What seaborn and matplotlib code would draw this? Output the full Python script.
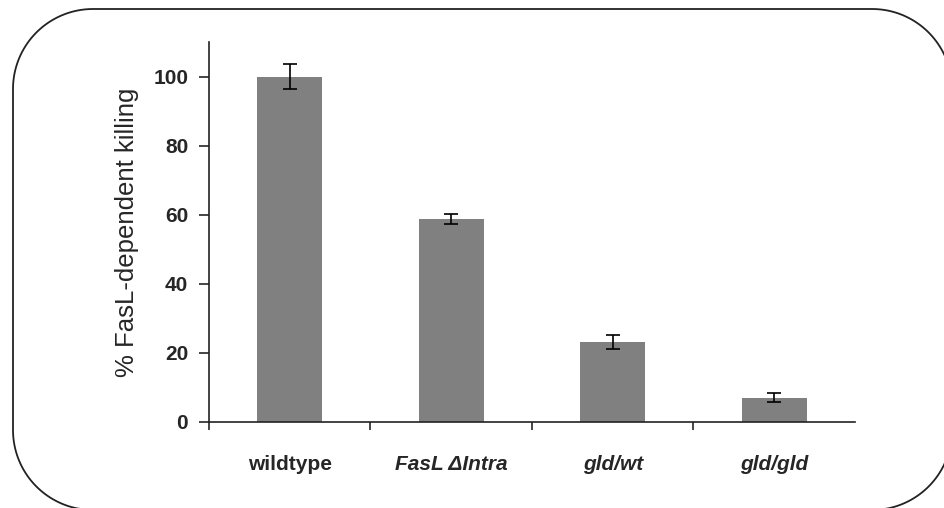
import numpy as np
import pandas as pd
import matplotlib
matplotlib.use("Agg")
import matplotlib.pyplot as plt
from matplotlib.patches import Polygon
import seaborn as sns

# data
categories = ["wildtype", "FasL \u0394Intra", "gld/wt", "gld/gld"]
italic = [False, True, True, True]
killing = [100.0, 58.7, 23.2, 7.0]
errors = [3.7, 1.5, 2.0, 1.3]
y_ticks = [0, 20, 40, 60, 80, 100]

sns.set_style("white")
plt.rcParams["font.family"] = ["Liberation Sans", "DejaVu Sans"]

df = pd.DataFrame({"group": categories, "killing": killing})

fig = plt.figure(figsize=(9.44, 5.08), dpi=100)
ax = fig.add_axes([0.2214, 0.1693, 0.6843, 0.748])

sns.barplot(data=df, x="group", y="killing", color="#808080", saturation=1,
            width=0.4, errorbar=None, ax=ax, edgecolor="none")
pos = np.arange(len(categories))
ax.errorbar(pos, killing, yerr=errors, fmt="none", ecolor="black",
            elinewidth=1.2, capsize=5, capthick=1.2)

ax.set_ylim(0, 110)
ax.set_xlim(-0.5, len(categories) - 0.5)
ax.set_yticks(y_ticks)
ax.set_yticklabels([str(t) for t in y_ticks], fontsize=15, fontweight="bold")
ax.tick_params(axis="y", direction="out", length=7, width=1.2, pad=8, left=True)

# boundaries get the tick marks, category centres get the labels
ax.set_xticks(np.r_[-0.5, pos[:-1] + 0.5])
ax.set_xticklabels([])
ax.set_xticks(pos, minor=True)
ax.set_xticklabels(categories, minor=True, fontsize=15, fontweight="bold")
for lab, it in zip(ax.get_xticklabels(minor=True), italic):
    lab.set_fontstyle("italic" if it else "normal")
ax.tick_params(axis="x", which="major", direction="out", length=6, width=1.2, bottom=True)
ax.tick_params(axis="x", which="minor", length=0, pad=24)

ax.set_xlabel("")
ax.set_ylabel("% FasL-dependent killing", fontsize=18.5, labelpad=10)

for side in ["top", "right"]:
    ax.spines[side].set_visible(False)
for side in ["left", "bottom"]:
    ax.spines[side].set_color("#222222")
    ax.spines[side].set_linewidth(1.2)

# rounded frame around the whole panel (inches), right side runs off the canvas
x0, x1, y0, y1, r = 0.13, 9.52, -0.02, 4.99, 0.8
pts = []
for cx, cy, a0 in [(x1 - r, y1 - r, 0), (x0 + r, y1 - r, 90),
                   (x0 + r, y0 + r, 180), (x1 - r, y0 + r, 270)]:
    th = np.radians(np.linspace(a0, a0 + 90, 40))
    pts.extend(zip(cx + r * np.cos(th), cy + r * np.sin(th)))
frame = Polygon(pts, closed=True, fill=False, edgecolor="#222222",
                linewidth=1.3, transform=fig.dpi_scale_trans, clip_on=False)
fig.add_artist(frame)

fig.savefig("out.png", dpi=100)
